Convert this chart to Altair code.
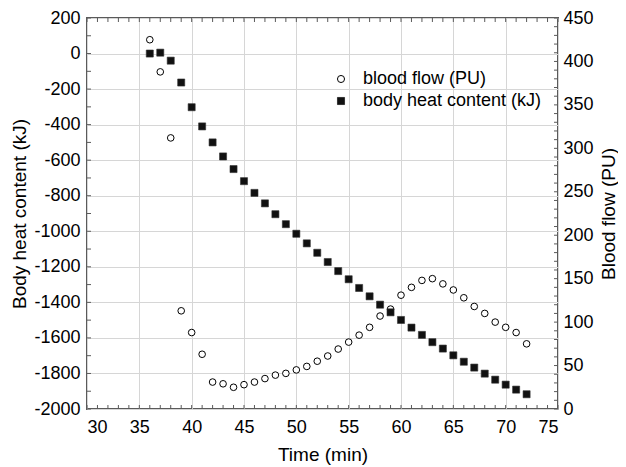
import altair as alt
import pandas as pd

# ---- data ----
time_min = list(range(36, 73))
heat_kj = [0, 5, -40, -163, -302, -410, -500, -579, -650, -718,
           -784, -843, -904, -960, -1014, -1068, -1121, -1173, -1224, -1270,
           -1319, -1366, -1413, -1456, -1499, -1542, -1583, -1624, -1660, -1698,
           -1734, -1767, -1801, -1835, -1863, -1891, -1917]
flow_pu = [425, 388, 312, 113, 88, 63, 31, 29, 25, 28,
           31, 35, 39, 41, 45, 49, 55, 61, 69, 77,
           85, 94, 107, 115, 131, 140, 148, 150, 144, 137,
           128, 118, 110, 100, 94, 88, 75]
series_names = ["blood flow (PU)", "body heat content (kJ)"]

x_ticks = list(range(30, 76, 5))
x_minor = list(range(30, 76))
left_ticks = list(range(-2000, 201, 200))
left_minor = list(range(-2000, 201, 100))
right_ticks = list(range(0, 451, 50))
right_minor = list(range(0, 451, 10))

W, H = 471, 391
FONT = "Liberation Sans"
FRAME = "#5a5a5a"

df_flow = pd.DataFrame({"time": time_min, "flow": flow_pu, "series": series_names[0]})
df_heat = pd.DataFrame({"time": time_min, "heat": heat_kj, "series": series_names[1]})

x_scale = alt.Scale(domain=[30, 75], nice=False, zero=False)
left_scale = alt.Scale(domain=[-2000, 200], nice=False, zero=False)
right_scale = alt.Scale(domain=[0, 450], nice=False, zero=False)

legend = alt.Legend(title=None, orient="none", legendX=245, legendY=52,
                    labelFontSize=18, labelFont=FONT, labelColor="black",
                    symbolSize=50, labelOffset=13, rowPadding=4, padding=0,
                    symbolStrokeWidth=1, labelLimit=400)
shape_enc = alt.Shape("series:N", scale=alt.Scale(domain=series_names, range=["circle", "square"]), legend=legend)
fill_enc = alt.Fill("series:N", scale=alt.Scale(domain=series_names, range=["white", "#111111"]), legend=legend)
stroke_enc = alt.Stroke("series:N", scale=alt.Scale(domain=series_names, range=["#000000", "#333333"]), legend=legend)

x_axis = alt.Axis(values=x_ticks, title="Time (min)", grid=True, gridColor="#d6d6d6",
                  ticks=False, tickSize=0, domain=False, labelPadding=9,
                  labelExpr="'' + datum.value",
                  titleY=51.5, titleBaseline="alphabetic")

circles = alt.Chart(df_flow).mark_point(filled=True, size=44, strokeWidth=1, opacity=1).encode(
    x=alt.X("time:Q", scale=x_scale, axis=x_axis, title="Time (min)"),
    y=alt.Y("flow:Q", scale=right_scale,
            axis=alt.Axis(orient="right", values=right_ticks, grid=False, ticks=False, tickSize=0,
                          domain=False, labelPadding=5, labelExpr="'' + datum.value",
                          title="Blood flow (PU)", titleAngle=270, titleX=56, titleY=H / 2,
                          titleBaseline="alphabetic", titleAlign="center")),
    shape=shape_enc, fill=fill_enc, stroke=stroke_enc,
)

squares = alt.Chart(df_heat).mark_point(filled=True, size=50, strokeWidth=0.6, opacity=1).encode(
    x=alt.X("time:Q", scale=x_scale, axis=x_axis, title="Time (min)"),
    y=alt.Y("heat:Q", scale=left_scale,
            axis=alt.Axis(orient="left", values=left_ticks, grid=True, gridColor="#d6d6d6",
                          ticks=False, tickSize=0, domain=False, labelPadding=7,
                          labelExpr="'' + datum.value",
                          title="Body heat content (kJ)", titleAngle=270, titleX=-62, titleY=H / 2,
                          titleBaseline="alphabetic", titleAlign="center")),
    shape=shape_enc, fill=fill_enc, stroke=stroke_enc,
)

TL = 4
df_xt = pd.DataFrame({"time": x_minor})
df_lt = pd.DataFrame({"v": left_minor})
df_rt = pd.DataFrame({"v": right_minor})

bottom_ticks = alt.Chart(df_xt).mark_rule(color=FRAME, strokeWidth=1).encode(
    x=alt.X("time:Q", scale=x_scale, axis=x_axis, title="Time (min)"),
    y=alt.value(H), y2=alt.value(H - TL))
top_ticks = alt.Chart(df_xt).mark_rule(color=FRAME, strokeWidth=1).encode(
    x=alt.X("time:Q", scale=x_scale, axis=x_axis, title="Time (min)"),
    y=alt.value(0), y2=alt.value(TL))
left_tk = alt.Chart(df_lt).mark_rule(color=FRAME, strokeWidth=1).encode(
    y=alt.Y("v:Q", scale=left_scale, axis=None), x=alt.value(0), x2=alt.value(TL))
right_tk = alt.Chart(df_rt).mark_rule(color=FRAME, strokeWidth=1).encode(
    y=alt.Y("v:Q", scale=right_scale, axis=None), x=alt.value(W), x2=alt.value(W - TL))

chart = alt.layer(circles, squares, bottom_ticks, top_ticks, left_tk, right_tk).resolve_scale(
    y="independent"
).properties(
    width=W, height=H,
    autosize=alt.AutoSizeParams(type="none"),
    padding={"left": 79, "top": 10, "right": 60, "bottom": 58},
).configure_view(
    stroke=FRAME, strokeWidth=2
).configure_axis(
    labelFont=FONT, titleFont=FONT, labelFontSize=18, titleFontSize=19,
    titleFontWeight="normal", labelColor="black", titleColor="black",
).configure_legend(
    labelFont=FONT
)

chart.save("out.html", embed_options={"renderer": "svg", "actions": False})
